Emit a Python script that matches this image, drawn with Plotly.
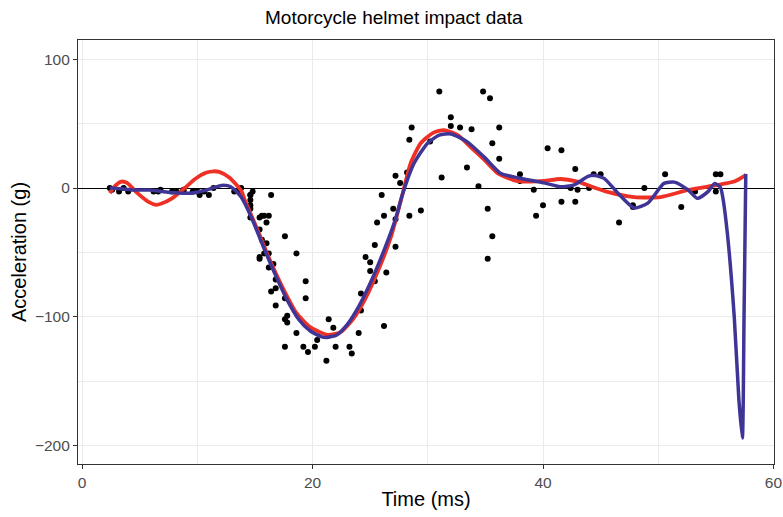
import plotly.graph_objects as go

times = [2.4, 2.6, 3.2, 3.6, 4.0, 6.2, 6.6, 6.8, 7.8, 8.2, 8.8, 8.8, 9.6, 10.0, 10.2, 10.6, 11.0, 11.4,
         13.2, 13.6, 13.8, 14.6, 14.6, 14.6, 14.6, 14.6, 14.6, 14.8, 15.4, 15.4, 15.4, 15.4, 15.6, 15.6,
         15.8, 15.8, 16.0, 16.0, 16.2, 16.2, 16.2, 16.4, 16.4, 16.6, 16.8, 16.8, 16.8, 17.6, 17.6, 17.6,
         17.6, 17.8, 17.8, 18.6, 18.6, 19.2, 19.4, 19.4, 19.6, 20.2, 20.4, 21.2, 21.4, 21.8, 22.0, 23.2,
         23.4, 24.0, 24.2, 24.2, 24.6, 25.0, 25.0, 25.4, 25.4, 25.6, 26.0, 26.2, 26.2, 26.4, 27.0, 27.2,
         27.2, 27.2, 27.6, 28.2, 28.4, 28.4, 28.6, 29.4, 30.2, 31.0, 31.2, 32.0, 32.0, 32.8, 33.4, 33.8,
         34.4, 34.8, 35.2, 35.2, 35.4, 35.6, 35.6, 36.2, 36.2, 38.0, 38.0, 39.2, 39.4, 40.0, 40.4, 41.6,
         41.6, 42.4, 42.8, 42.8, 43.0, 44.0, 44.4, 45.0, 46.6, 47.8, 47.8, 48.8, 50.6, 52.0, 53.2, 55.0,
         55.0, 55.4, 57.6]
accel = [0.0, -1.3, -2.7, 0.0, -2.7, -2.7, -2.7, -1.3, -2.7, -2.7, -1.3, -2.7, -2.7, -2.7, -5.4, -2.7,
         -5.4, 0.0, -2.7, -2.7, 0.0, -13.3, -5.4, -5.4, -9.3, -16.0, -22.8, -2.7, -22.8, -32.1, -53.5,
         -54.9, -40.2, -21.5, -21.5, -50.8, -42.9, -26.8, -21.5, -50.8, -61.7, -5.4, -80.4, -59.0, -71.0,
         -91.1, -77.7, -37.5, -85.6, -123.1, -101.9, -99.1, -104.4, -112.5, -50.8, -123.1, -85.6, -72.3,
         -127.2, -123.1, -117.9, -134.0, -101.9, -108.4, -123.1, -123.1, -128.5, -112.5, -95.1, -81.8,
         -53.5, -64.4, -57.6, -72.3, -44.3, -26.8, -5.4, -107.1, -21.5, -65.6, -16.0, -45.6, -24.2, 9.5,
         4.0, 12.0, -21.5, 37.5, 46.9, -17.4, 36.2, 75.0, 8.1, 54.9, 48.2, 46.9, 16.0, 45.6, 1.3, 75.0,
         -16.0, -54.9, 69.6, 34.8, -37.5, 22.8, 46.9, 10.7, 5.4, -1.3, -21.5, -13.3, 30.8, -10.7, 29.4,
         0.0, -10.7, 14.7, -1.3, 0.0, 10.7, 10.7, -26.8, -14.7, -13.3, 0.0, 10.7, -14.7, -2.7, 10.7,
         -2.7, 10.7]

# red smooth
red_x = [2.4, 2.9, 3.4, 3.9, 4.8, 5.8, 6.4, 6.9, 7.8, 8.9, 9.8, 10.8, 11.4, 11.9, 12.8, 13.8, 14.1,
         15.2, 16.3, 17.5, 18.6, 19.8, 21.3, 22.4, 23.5, 24.4, 25.6, 26.8, 27.8, 28.5, 29.4, 30.5, 31.4,
         32.6, 33.7, 34.9, 36.0, 37.5, 38.7, 40.1, 41.5, 43.0, 44.4, 45.6, 47.9, 50.2, 52.6, 54.9, 56.6,
         57.6]
red_y = [-4, 2, 5, 4, -4, -11, -13, -12, -8, 0, 7, 12, 13, 12.5, 8, -2, -9,
         -32, -56, -79, -97, -108, -114, -112, -102, -89, -66, -38, -5, 19, 35, 43, 45,
         41, 32, 22, 12, 6, 5, 5.5, 7, 5, 0.5, -3, -7, -7, -1.5, 2, 5,
         10]

# blue smooth
blue_x = [2.4, 3.4, 4.4, 5.9, 7.6, 9.4, 10.8, 12.1, 12.9, 13.8, 14.7, 15.7, 16.8, 17.8, 18.8, 19.8,
          20.8, 21.2, 22.1, 23.0, 24.0, 25.1, 26.3, 27.2, 27.8, 28.8, 30.0, 31.0, 32.0, 33.4, 34.9,
          36.3, 37.8, 38.9, 40.1, 41.5, 42.7, 43.9, 44.4, 45.3, 46.5, 47.9, 49.1, 50.5, 51.4, 52.6,
          53.4, 54.3, 54.9, 55.4, 55.6, 56.0, 56.6, 57.0, 57.3, 57.45, 57.6]
blue_y = [0, -0.5, -1.5, -1.5, -3.5, -4, -1.5, 2, 1, -7, -23, -45, -68, -87, -102, -111,
          -115.5, -116, -114, -106, -92, -72, -46, -24, -5, 19, 35, 41, 42, 36, 24,
          11.5, 8, 6, 4, 1, 2.5, 9, 10, 7.5, -4, -15.5, -11.7, 3.6, 4.6, -1.5,
          -8, -3, 3.6, 0.5, -7, -35, -100, -164, -194, -100, 11]

FONT = "Liberation Sans, Arial"

fig = go.Figure()
fig.add_trace(go.Scatter(x=times, y=accel, mode="markers",
                         marker=dict(color="black", size=6), showlegend=False))
fig.add_trace(go.Scatter(x=red_x, y=red_y, mode="lines",
                         line=dict(color="#EE3124", width=3.8, shape="spline", smoothing=0.6),
                         showlegend=False))
fig.add_trace(go.Scatter(x=blue_x, y=blue_y, mode="lines",
                         line=dict(color="#3F3596", width=3.5, shape="spline", smoothing=0.6),
                         showlegend=False))

axis_common = dict(
    showgrid=True, gridcolor="#EBEBEB", gridwidth=1.1,
    showline=True, linecolor="#333333", linewidth=1.2, mirror=True,
    ticks="outside", ticklen=4, tickcolor="#333333", tickwidth=1.1,
    tickfont=dict(family=FONT, size=15.5, color="#4D4D4D"),
    automargin=False,
)
fig.update_layout(
    width=783, height=517,
    margin=dict(l=78, r=9, t=40, b=53),
    paper_bgcolor="white", plot_bgcolor="white",
    title=dict(text="Motorcycle helmet impact data", x=0.503, xref="container", xanchor="center",
               y=0.967, yref="container", yanchor="middle",
               font=dict(family=FONT, size=19, color="black")),
    xaxis=dict(range=[-0.36, 60.05], tickvals=[0, 20, 40, 60], zeroline=False,
               minor=dict(tickvals=[10, 30, 50], showgrid=True, gridcolor="#EBEBEB", gridwidth=0.6, ticks=""),
               title=dict(text="Time (ms)", standoff=2,
                          font=dict(family=FONT, size=20, color="black")),
               **axis_common),
    yaxis=dict(range=[-214.2, 114.9], tickvals=[100, 0, -100, -200],
               zeroline=True, zerolinecolor="black", zerolinewidth=1.1,
               minor=dict(tickvals=[50, -50, -150], showgrid=True, gridcolor="#EBEBEB", gridwidth=0.6, ticks=""),
               title=dict(text="Acceleration (g)", standoff=2,
                          font=dict(family=FONT, size=20, color="black")),
               **axis_common),
)
fig.write_html("out.html")
